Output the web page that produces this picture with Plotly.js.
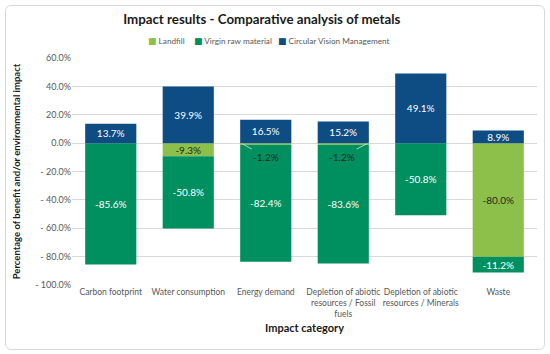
<!DOCTYPE html>
<html>
<head>
<meta charset="utf-8">
<script src="https://cdn.plot.ly/plotly-3.0.1.min.js"></script>
<style>
  html, body { margin: 0; padding: 0; background: #fff; }
  #wrap { position: relative; width: 550px; height: 354px; }
  #chart { width: 550px; height: 354px; }
  #frame { position: absolute; left: 5px; top: 5px; width: 538px; height: 343px;
           border: 1px solid #d9d9d9; border-radius: 6px; pointer-events: none; }
</style>
</head>
<body>
<div id="wrap"><div id="chart"></div><div id="frame"></div></div>
<script>
const categories = ["Carbon footprint", "Water consumption", "Energy demand",
  "Depletion of abiotic<br>resources / Fossil<br>fuels", "Depletion of abiotic<br>resources / Minerals", "Waste"];
const seriesNames = ["Landfill", "Virgin raw material", "Circular Vision Management"];
const seriesColors = ["#8DC04A", "#009060", "#0E4C84"];
const landfill = [0, -9.3, -1.2, -1.2, 0, -80.0];
const virgin = [-85.6, -50.8, -82.4, -83.6, -50.8, -11.2];
const circular = [13.7, 39.9, 16.5, 15.2, 49.1, 8.9];
const tickVals = [60, 40, 20, 0, -20, -40, -60, -80, -100];
const tickText = ["60.0%", "40.0%", "20.0%", "0.0%", "- 20.0%", "- 40.0%", "- 60.0%", "- 80.0%", "- 100.0%"];
// small landfill values labelled outside with leader lines
const smallIdx = [2, 3];
const smallAx = [-0.31, 0.31];
// legend entry positions (paper fraction)
const legendX = [0.160, 0.258, 0.438];

const fmt = v => (v === 0 ? "" : v.toFixed(1) + "%");
const font = "Lato, 'DejaVu Sans', sans-serif";

const landfillText = landfill.map((v, i) => smallIdx.includes(i) ? "" : fmt(v));
const seriesData = [landfill, virgin, circular];
const seriesText = [landfillText, virgin.map(fmt), circular.map(fmt)];
const textColors = ["#1f2a1a", "#ffffff", "#ffffff"];

const traces = seriesData.map((d, k) => ({
  type: "bar", name: seriesNames[k], x: categories, y: d,
  marker: { color: seriesColors[k] }, text: seriesText[k], textposition: "inside",
  insidetextanchor: "middle", constraintext: "none",
  textfont: { color: textColors[k], size: 10, family: font }
}));

const annotations = smallIdx.map((i, k) => ({
  x: i + smallAx[k], y: -0.3, xref: "x", yref: "y",
  text: fmt(landfill[i]), showarrow: true, arrowhead: 0, arrowwidth: 0.8,
  arrowcolor: "#cfe6d8", ax: smallAx[k] < 0 ? 24 : -25, ay: 13,
  font: { color: "#1f2a1a", size: 10, family: font }
}));

seriesNames.forEach((n, k) => annotations.push({
  xref: "paper", yref: "paper", x: legendX[k], y: 1.075,
  xanchor: "left", yanchor: "middle", showarrow: false,
  text: "<span style='color:" + seriesColors[k] + ";font-size:9px'>■</span><span style='font-size:8.2px'> " + n + "</span>",
  font: { size: 8.2, color: "#595959", family: font }
}));

const layout = {
  width: 550, height: 354,
  margin: { l: 72, r: 13, t: 58, b: 69 },
  paper_bgcolor: "rgba(0,0,0,0)", plot_bgcolor: "#ffffff",
  barmode: "relative", bargap: 0.34,
  font: { family: font, color: "#595959", size: 9 },
  title: { text: "<b>Impact results - Comparative analysis of metals</b>",
    font: { size: 13.3, color: "#1a1a1a", family: font },
    x: 0.476, xref: "container", xanchor: "center", y: 1 - 19 / 354, yref: "container", yanchor: "middle" },
  showlegend: false,
  xaxis: { type: "category", showgrid: false, zeroline: false, showline: false, tickangle: 0,
    tickfont: { size: 8.5, color: "#595959" }, ticks: "",
    title: { text: "<b>Impact category</b>", font: { size: 11, color: "#1a1a1a" }, standoff: 6 } },
  yaxis: { range: [-100, 60], tickvals: tickVals, ticktext: tickText,
    showgrid: true, gridcolor: "#d9d9d9", gridwidth: 1, zeroline: true, zerolinecolor: "#d9d9d9",
    zerolinewidth: 1, tickfont: { size: 9, color: "#595959" }, ticks: "",
    title: { text: "<b>Percentage of benefit and/or environmental impact</b>",
      font: { size: 9.5, color: "#1a1a1a" }, standoff: 12 } },
  annotations: annotations
};

Plotly.newPlot("chart", traces, layout, { displayModeBar: false, staticPlot: true });
</script>
</body>
</html>
